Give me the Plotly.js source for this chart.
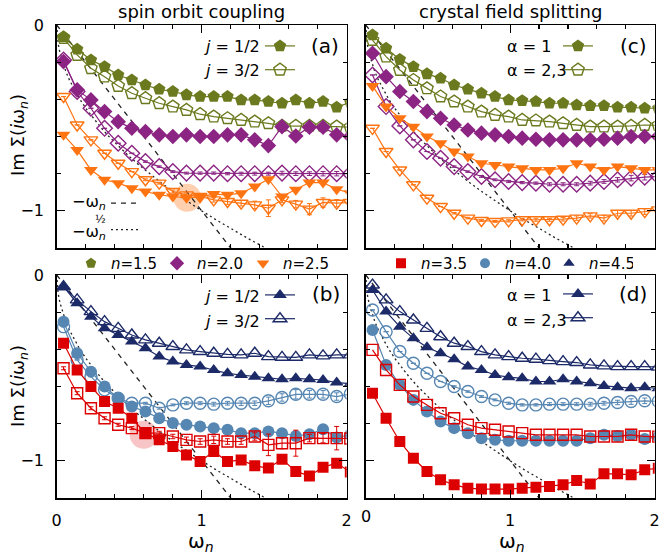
<!DOCTYPE html>
<html><head><meta charset="utf-8">
<script src="https://cdn.plot.ly/plotly-3.0.1.min.js"></script>
<style>html,body{margin:0;padding:0;background:#fff}#chart{width:659px;height:556px}</style>
</head><body><div id="chart"></div>
<script>
// Matsubara frequencies
const wn = [0.047,0.141,0.236,0.330,0.424,0.518,0.612,0.707,0.801,0.895,0.989,1.083,1.178,1.272,1.366,1.460,1.554,1.649,1.743,1.837,1.931,2.025];

// panel (a): spin orbit coupling, n = 1.5 ... 2.5
const a_n15_j12 = [-0.063,-0.131,-0.188,-0.224,-0.269,-0.296,-0.323,-0.346,-0.358,-0.376,-0.385,-0.385,-0.385,-0.403,-0.403,-0.412,-0.421,-0.403,-0.421,-0.412,-0.443,-0.415];
const a_n15_j32 = [-0.070,-0.161,-0.233,-0.278,-0.328,-0.367,-0.394,-0.421,-0.439,-0.457,-0.480,-0.493,-0.502,-0.511,-0.520,-0.529,-0.543,-0.543,-0.543,-0.543,-0.547,-0.550];
const a_n20_j12 = [-0.197,-0.349,-0.403,-0.466,-0.520,-0.556,-0.573,-0.591,-0.600,-0.591,-0.600,-0.600,-0.591,-0.591,-0.618,-0.649,-0.547,-0.597,-0.550,-0.550,-0.591,-0.600];
const a_n20_j32 = [-0.188,-0.358,-0.448,-0.556,-0.636,-0.690,-0.735,-0.762,-0.789,-0.797,-0.797,-0.797,-0.800,-0.800,-0.800,-0.800,-0.797,-0.800,-0.800,-0.800,-0.800,-0.800];
const a_n20_j32_err = [0,0,0,0,0,0,0.004,0.004,0.005,0.005,0.006,0.006,0.006,0.008,0.008,0.008,0.01,0.01,0.01,0.012,0.012,0.012];
const a_n25_j12 = [-0.591,-0.672,-0.780,-0.833,-0.851,-0.878,-0.896,-0.914,-0.923,-0.930,-0.925,-0.910,-0.914,-0.905,-0.869,-0.830,-0.923,-0.887,-0.848,-0.848,-0.884,-0.905];
const a_n25_j32 = [-0.385,-0.538,-0.618,-0.690,-0.744,-0.789,-0.833,-0.851,-0.896,-0.914,-0.923,-0.941,-0.950,-0.959,-0.968,-0.986,-0.941,-0.964,-0.991,-0.955,-0.959,-0.955];
const a_n25_j32_err = [0,0,0,0,0,0,0.005,0.005,0.008,0.01,0.01,0.012,0.015,0.015,0.02,0.045,0.015,0.02,0.03,0.025,0.02,0.02];

// panel (b): spin orbit coupling, n = 3.5 ... 4.5
const b_n45_j12 = [-0.063,-0.152,-0.224,-0.287,-0.323,-0.358,-0.394,-0.439,-0.466,-0.484,-0.493,-0.511,-0.529,-0.538,-0.547,-0.556,-0.561,-0.556,-0.561,-0.565,-0.579,-0.585];
const b_n45_j32 = [-0.063,-0.134,-0.197,-0.251,-0.287,-0.323,-0.349,-0.367,-0.385,-0.403,-0.412,-0.421,-0.427,-0.430,-0.421,-0.439,-0.443,-0.443,-0.430,-0.435,-0.430,-0.430];
const b_n40_j12 = [-0.251,-0.421,-0.520,-0.600,-0.663,-0.708,-0.735,-0.771,-0.797,-0.806,-0.815,-0.824,-0.833,-0.851,-0.851,-0.842,-0.851,-0.866,-0.857,-0.830,-0.875,-0.860];
const b_n40_j32 = [-0.278,-0.457,-0.547,-0.618,-0.663,-0.690,-0.690,-0.717,-0.699,-0.690,-0.690,-0.695,-0.690,-0.690,-0.690,-0.677,-0.659,-0.642,-0.642,-0.642,-0.654,-0.640];
const b_n40_j32_err = [0,0,0,0,0,0.005,0.005,0.005,0.005,0.008,0.008,0.01,0.01,0.012,0.012,0.02,0.02,0.025,0.02,0.02,0.02,0.02];
const b_n35_j12 = [-0.367,-0.511,-0.600,-0.681,-0.717,-0.771,-0.851,-0.887,-0.923,-0.968,-1.004,-0.950,-1.004,-0.995,-1.027,-1.039,-0.991,-1.057,-1.081,-1.034,-1.013,-1.060];
const b_n35_j32 = [-0.502,-0.636,-0.717,-0.771,-0.806,-0.824,-0.851,-0.851,-0.869,-0.887,-0.896,-0.887,-0.896,-0.896,-0.869,-0.914,-0.905,-0.905,-0.878,-0.878,-0.878,-0.880];
const b_n35_j32_err = [0.008,0.008,0.008,0.008,0.008,0.008,0.01,0.01,0.012,0.015,0.015,0.02,0.015,0.015,0.02,0.058,0.03,0.07,0.02,0.025,0.063,0.03];

// panel (c): crystal field splitting, n = 1.5 ... 2.5
const c_n15_a1 = [-0.054,-0.125,-0.185,-0.224,-0.263,-0.287,-0.323,-0.346,-0.367,-0.385,-0.403,-0.407,-0.412,-0.421,-0.421,-0.430,-0.435,-0.435,-0.443,-0.443,-0.448,-0.448];
const c_n15_a23 = [-0.081,-0.170,-0.242,-0.296,-0.341,-0.385,-0.412,-0.439,-0.466,-0.484,-0.493,-0.511,-0.514,-0.520,-0.529,-0.538,-0.547,-0.547,-0.547,-0.543,-0.538,-0.540];
const c_n20_a1 = [-0.152,-0.278,-0.358,-0.412,-0.466,-0.502,-0.538,-0.565,-0.582,-0.591,-0.600,-0.609,-0.615,-0.618,-0.618,-0.618,-0.618,-0.615,-0.609,-0.600,-0.600,-0.600];
const c_n20_a23 = [-0.269,-0.439,-0.543,-0.618,-0.681,-0.717,-0.762,-0.789,-0.815,-0.833,-0.842,-0.848,-0.851,-0.857,-0.857,-0.857,-0.851,-0.842,-0.833,-0.824,-0.819,-0.815];
const c_n20_a23_err = [0,0,0,0,0,0,0.004,0.004,0.005,0.005,0.006,0.006,0.006,0.008,0.008,0.008,0.01,0.01,0.012,0.015,0.015,0.015];
const c_n25_a1 = [-0.328,-0.439,-0.502,-0.547,-0.600,-0.636,-0.681,-0.708,-0.744,-0.753,-0.762,-0.771,-0.780,-0.780,-0.771,-0.744,-0.762,-0.780,-0.762,-0.771,-0.780,-0.780];
const c_n25_a23 = [-0.556,-0.681,-0.780,-0.860,-0.932,-0.977,-1.013,-1.039,-1.052,-1.057,-1.054,-1.048,-1.048,-1.048,-1.045,-1.039,-1.027,-1.039,-1.013,-1.013,-1.004,-0.995];
const c_n25_a23_err = [0,0,0,0,0,0,0.004,0.004,0.005,0.005,0.006,0.006,0.008,0.008,0.01,0.012,0.012,0.015,0.015,0.015,0.015,0.015];

// panel (d): crystal field splitting, n = 3.5 ... 4.5
const d_n45_a1 = [-0.081,-0.197,-0.278,-0.341,-0.389,-0.421,-0.453,-0.493,-0.511,-0.538,-0.550,-0.556,-0.573,-0.573,-0.561,-0.573,-0.582,-0.597,-0.604,-0.609,-0.604,-0.610];
const d_n45_a23 = [-0.054,-0.134,-0.197,-0.242,-0.287,-0.332,-0.367,-0.385,-0.412,-0.430,-0.439,-0.448,-0.453,-0.461,-0.466,-0.471,-0.484,-0.489,-0.493,-0.493,-0.493,-0.495];
const d_n40_a1 = [-0.296,-0.484,-0.591,-0.672,-0.735,-0.789,-0.824,-0.851,-0.878,-0.887,-0.892,-0.892,-0.892,-0.892,-0.892,-0.892,-0.878,-0.860,-0.866,-0.860,-0.883,-0.870];
const d_n40_a23 = [-0.188,-0.305,-0.412,-0.475,-0.529,-0.573,-0.600,-0.627,-0.654,-0.672,-0.690,-0.699,-0.699,-0.695,-0.695,-0.695,-0.695,-0.690,-0.686,-0.681,-0.677,-0.680];
const d_n40_a23_err = [0,0,0,0,0,0,0.004,0.004,0.005,0.005,0.006,0.006,0.006,0.008,0.008,0.008,0.01,0.01,0.012,0.015,0.015,0.015];
const d_n35_a1 = [-0.636,-0.771,-0.896,-0.986,-1.057,-1.102,-1.129,-1.147,-1.152,-1.152,-1.152,-1.147,-1.142,-1.138,-1.129,-1.106,-1.124,-1.070,-1.070,-1.075,-1.048,-1.040];
const d_n35_a23 = [-0.403,-0.511,-0.591,-0.654,-0.699,-0.744,-0.771,-0.806,-0.824,-0.833,-0.842,-0.851,-0.860,-0.860,-0.860,-0.860,-0.869,-0.869,-0.869,-0.860,-0.869,-0.870];

// guide curves -w_n and -w_n^(1/2)
const guideLinX = [0, 1.3];
const guideLinY = [0, -1.3];
const guideSqrtX = [0,0.0025,0.01,0.0225,0.04,0.0625,0.09,0.1225,0.16,0.2025,0.25,0.3025,0.36,0.4225,0.49,0.5625,0.64,0.7225,0.81,0.9025,1.0,1.1025,1.21,1.3225,1.44,1.5625];
const guideSqrtY = [0,-0.05,-0.1,-0.15,-0.2,-0.25,-0.3,-0.35,-0.4,-0.45,-0.5,-0.55,-0.6,-0.65,-0.7,-0.75,-0.8,-0.85,-0.9,-0.95,-1.0,-1.05,-1.1,-1.15,-1.2,-1.25];

// highlighted points
const hlA_x = [0.90], hlA_y = [-0.93];
const hlB_x = [0.60], hlB_y = [-0.86];

// labels
const xTickVals = [0, 1, 2];
const xTickText = ['0', '1', '2'];
const xTickTextD = ['', '1', '2'];
const nLabelsTop = ['<i>n</i>=1.5','<i>n</i>=2.0','<i>n</i>=2.5'];
const nLabelsBot = ['<i>n</i>=3.5','<i>n</i>=4.0','<i>n</i>=4.5'];

const OLIVE = '#6b7a1e', PURPLE = '#8b2483', ORANGE = '#ff7412', RED = '#dc0000', BLUE = '#5686b2', NAVY = '#1c2a68';
const SYM = {olive:'pentagon', purple:'diamond', orange:'triangle-down', red:'square', blue:'circle', navy:'triangle-up'};
const SIZE = {pentagon:13, diamond:12, 'triangle-down':12, square:11, circle:12, 'triangle-up':12};

const traces = [];
function hl(xa, ya, x, y, color) {
  traces.push({x:x, y:y, xaxis:xa, yaxis:ya, mode:'markers', showlegend:false, hoverinfo:'skip',
    marker:{size:28, color:color, line:{width:0}}});
}
function guides(xa, ya) {
  traces.push({x:guideLinX, y:guideLinY, xaxis:xa, yaxis:ya, mode:'lines', showlegend:false,
    line:{color:'#222', width:1.3, dash:'5px,5px'}});
  traces.push({x:guideSqrtX, y:guideSqrtY, xaxis:xa, yaxis:ya, mode:'lines', showlegend:false,
    line:{color:'#222', width:1.3, dash:'2px,3px'}});
}
function series(xa, ya, y, color, sym, open, err) {
  const t = {x:wn, y:y, xaxis:xa, yaxis:ya, mode:'lines+markers', showlegend:false,
    line:{color:color, width:1.2},
    marker:{symbol: open ? sym + '-open' : sym, size:SIZE[sym], color:color,
      line:{color:color, width: open ? 1.4 : 0}}};
  if (err) t.error_y = {type:'data', array:err, visible:true, color:color, thickness:1, width:2.5};
  traces.push(t);
}

// panel a
hl('x','y', hlA_x, hlA_y, 'rgba(252,150,80,0.45)');
guides('x','y');
series('x','y', a_n15_j12, OLIVE, SYM.olive, false);
series('x','y', a_n15_j32, OLIVE, SYM.olive, true);
series('x','y', a_n20_j12, PURPLE, SYM.purple, false);
series('x','y', a_n20_j32, PURPLE, SYM.purple, true, a_n20_j32_err);
series('x','y', a_n25_j12, ORANGE, SYM.orange, false);
series('x','y', a_n25_j32, ORANGE, SYM.orange, true, a_n25_j32_err);
// panel b
hl('x2','y2', hlB_x, hlB_y, 'rgba(235,110,110,0.4)');
guides('x2','y2');
series('x2','y2', b_n45_j12, NAVY, SYM.navy, false);
series('x2','y2', b_n45_j32, NAVY, SYM.navy, true);
series('x2','y2', b_n40_j12, BLUE, SYM.blue, false);
series('x2','y2', b_n40_j32, BLUE, SYM.blue, true, b_n40_j32_err);
series('x2','y2', b_n35_j12, RED, SYM.red, false);
series('x2','y2', b_n35_j32, RED, SYM.red, true, b_n35_j32_err);
// panel c
guides('x3','y3');
series('x3','y3', c_n15_a1, OLIVE, SYM.olive, false);
series('x3','y3', c_n15_a23, OLIVE, SYM.olive, true);
series('x3','y3', c_n20_a1, PURPLE, SYM.purple, false);
series('x3','y3', c_n20_a23, PURPLE, SYM.purple, true, c_n20_a23_err);
series('x3','y3', c_n25_a1, ORANGE, SYM.orange, false);
series('x3','y3', c_n25_a23, ORANGE, SYM.orange, true, c_n25_a23_err);
// panel d
guides('x4','y4');
series('x4','y4', d_n45_a1, NAVY, SYM.navy, false);
series('x4','y4', d_n45_a23, NAVY, SYM.navy, true);
series('x4','y4', d_n40_a1, BLUE, SYM.blue, false);
series('x4','y4', d_n40_a23, BLUE, SYM.blue, true, d_n40_a23_err);
series('x4','y4', d_n35_a1, RED, SYM.red, false);
series('x4','y4', d_n35_a23, RED, SYM.red, true);

// legend keys (empty traces)
function key(legend, color, sym, open, mode) {
  traces.push({x:[null], y:[null], xaxis:'x', yaxis:'y', mode:mode, name:' ', legend:legend, showlegend:true,
    line:{color:color, width:1.2},
    marker:{symbol: open ? sym + '-open' : sym, size:SIZE[sym], color:color, line:{color:color, width: open ? 1.4 : 0}}});
}
key('legend', OLIVE, SYM.olive, false, 'lines+markers');
key('legend', OLIVE, SYM.olive, true, 'lines+markers');
key('legend2', NAVY, SYM.navy, false, 'lines+markers');
key('legend2', NAVY, SYM.navy, true, 'lines+markers');
key('legend3', OLIVE, SYM.olive, false, 'lines+markers');
key('legend3', OLIVE, SYM.olive, true, 'lines+markers');
key('legend4', NAVY, SYM.navy, false, 'lines+markers');
key('legend4', NAVY, SYM.navy, true, 'lines+markers');
[[OLIVE,SYM.olive],[PURPLE,SYM.purple],[ORANGE,SYM.orange]].forEach((c,i) => {
  traces.push({x:[null], y:[null], xaxis:'x', yaxis:'y', mode:'markers', name:nLabelsTop[i], legend:'legend5', showlegend:true,
    marker:{symbol:c[1], size:11, color:c[0]}});
});
[[RED,SYM.red],[BLUE,SYM.blue],[NAVY,SYM.navy]].forEach((c,i) => {
  traces.push({x:[null], y:[null], xaxis:'x', yaxis:'y', mode:'markers', name:nLabelsBot[i], legend:'legend6', showlegend:true,
    marker:{symbol:c[1], size:10, color:c[0]}});
});
traces.push({x:[null], y:[null], xaxis:'x', yaxis:'y', mode:'lines', name:' ', legend:'legend7', showlegend:true,
  line:{color:'#222', width:1.3, dash:'5px,5px'}});
traces.push({x:[null], y:[null], xaxis:'x', yaxis:'y', mode:'lines', name:' ', legend:'legend7', showlegend:true,
  line:{color:'#222', width:1.3, dash:'2px,3px'}});

const FONT = 'DejaVu Sans';
function xax(domain, anchor, labels, ttext) {
  return {domain:domain, anchor:anchor, range:[-0.0001, 2.0001], showgrid:false, zeroline:false, showline:true,
    linecolor:'#000', linewidth:1.5, mirror:'ticks', ticks:'inside', ticklen:8, tickwidth:1.2, tickcolor:'#000',
    tickmode:'array', tickvals:xTickVals, ticktext:ttext || xTickText, showticklabels:labels, ticklabelstandoff:7, ticklabeloverflow:'allow',
    minor:{ticks:'inside', ticklen:4, tickwidth:1.2, tickcolor:'#000', tickmode:'linear', dtick:0.2, tick0:0, showgrid:false},
    tickfont:{family:FONT, size:16, color:'#000'}, fixedrange:true};
}
function yax(domain, anchor, labels) {
  return {domain:domain, anchor:anchor, range:[-1.2,0], showgrid:false, zeroline:false, showline:true,
    linecolor:'#000', linewidth:1.5, mirror:'ticks', ticks:'inside', ticklen:8, tickwidth:1.2, tickcolor:'#000',
    tickmode:'linear', tick0:0, dtick:1, showticklabels:labels, ticklabelstandoff:8, ticklabeloverflow:'allow',
    minor:{ticks:'inside', ticklen:4, tickwidth:1.2, tickcolor:'#000', dtick:0.2, tick0:0, showgrid:false},
    tickfont:{family:FONT, size:16, color:'#000'}, fixedrange:true};
}
const W = 659, H = 556;
const px = v => v / W, py = v => 1 - v / H;
const XL = [px(56.7), px(346.7)], XR = [px(365.7), px(654.7)];
const YT = [py(248), py(25)], YB = [py(498), py(275)];

function ann(text, x, y, size, xanchor, extra) {
  return Object.assign({text:text, x:px(x), y:py(y), xref:'paper', yref:'paper', showarrow:false,
    xanchor:xanchor || 'center', yanchor:'middle', font:{family:FONT, size:size, color:'#000'}}, extra || {});
}
const legBase = {xanchor:'left', yanchor:'top', bgcolor:'rgba(0,0,0,0)', borderwidth:0, font:{family:FONT, size:16, color:'#000'}};
const layout = {
  width:W, height:H, margin:{l:0, r:0, t:0, b:0}, paper_bgcolor:'#fff', plot_bgcolor:'#fff',
  font:{family:FONT, color:'#000'},
  xaxis: xax(XL, 'y', false), yaxis: yax(YT, 'x', true),
  xaxis2: xax(XL, 'y2', true), yaxis2: yax(YB, 'x2', true),
  xaxis3: xax(XR, 'y3', false), yaxis3: yax(YT, 'x3', false),
  xaxis4: xax(XR, 'y4', true, xTickTextD), yaxis4: yax(YB, 'x4', false),
  legend: Object.assign({}, legBase, {x:px(260), y:py(29)}),
  legend2: Object.assign({}, legBase, {x:px(260), y:py(278)}),
  legend3: Object.assign({}, legBase, {x:px(558), y:py(29)}),
  legend4: Object.assign({}, legBase, {x:px(558), y:py(277)}),
  legend5: Object.assign({}, legBase, {x:px(71), y:py(247), orientation:'h', entrywidth:41, font:{family:FONT, size:15, color:'#000'}}),
  legend6: Object.assign({}, legBase, {x:px(381), y:py(247), orientation:'h', entrywidth:39, font:{family:FONT, size:15, color:'#000'}}),
  legend7: Object.assign({}, legBase, {x:px(106), y:py(185), font:{family:FONT, size:18, color:'#000'}}),
  annotations: [
    ann('spin orbit coupling', 201, 12, 18),
    ann('crystal field splitting', 510, 12, 18),
    ann('Im Σ(<i>i</i>ω<sub><i>n</i></sub>)', 19, 135, 18, 'center', {textangle:-90}),
    ann('Im Σ(<i>i</i>ω<sub><i>n</i></sub>)', 19, 386, 18, 'center', {textangle:-90}),
    ann('ω<sub><i>n</i></sub>', 201, 542, 20),
    ann('ω<sub><i>n</i></sub>', 512, 542, 20),
    ann(xTickText[0], 365.7, 516, 16),
    ann('<i>j</i> = 1/2', 262, 46, 16, 'right'),
    ann('<i>j</i> = 3/2', 262, 71, 16, 'right'),
    ann('(a)', 325, 46, 20),
    ann('<i>j</i> = 1/2', 262, 296, 16, 'right'),
    ann('<i>j</i> = 3/2', 262, 321, 16, 'right'),
    ann('(b)', 326, 294, 20),
    ann('α = 1', 505, 46, 16, 'left'),
    ann('α = 2,3', 505, 71, 16, 'left'),
    ann('(c)', 633, 46, 20),
    ann('α = 1', 505, 295, 16, 'left'),
    ann('α = 2,3', 505, 320, 16, 'left'),
    ann('(d)', 633, 294, 20),
    ann('−ω<sub><i>n</i></sub>', 108, 203, 16, 'right'),
    ann('−ω<sub><i>n</i></sub>', 108, 232, 16, 'right'),
    ann('½', 100, 219, 11)
  ]
};
Plotly.newPlot('chart', traces, layout, {staticPlot:true, displayModeBar:false});
</script></body></html>
